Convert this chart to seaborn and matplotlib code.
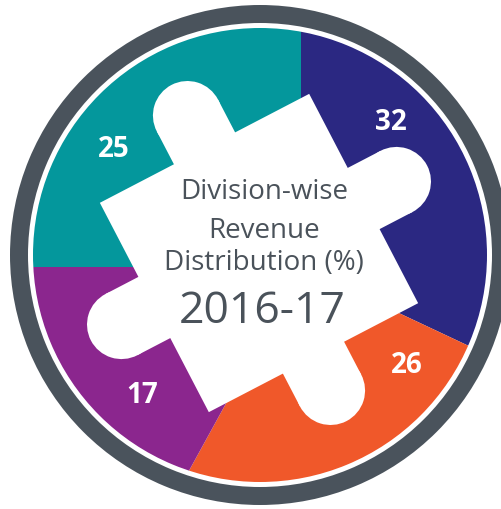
import matplotlib
matplotlib.use("Agg")
import matplotlib.pyplot as plt
from matplotlib.patches import Circle, Rectangle, Wedge
from matplotlib.transforms import Affine2D
import seaborn as sns

# Revenue share per division, clockwise from 12 o'clock (%)
shares = [32, 26, 17, 25]
share_colors = ["#2b2882", "#f0582a", "#8b268e", "#04979c"]
title_lines = ["Division-wise", "Revenue", "Distribution (%)"]
year_label = "2016-17"

# where each share figure is written (pixel x, pixel y from top)
label_pos = [(391, 130), (407, 373), (142, 403), (114, 157)]

sns.set_theme(style="white")
plt.rcParams["font.family"] = ["Open Sans", "DejaVu Sans"]

W, H = 502, 509
ink = "#4a525a"

fig = plt.figure(figsize=(W / 100, H / 100), dpi=100)
ax = fig.add_axes([0, 0, 1, 1])


def up(y):
    return H - y


ring_c = (260, up(255))
disc_r = 227

# segmented disc: wedges fan out from an off-centre point
palette = sns.color_palette(share_colors)
wedges, _ = ax.pie(shares, colors=palette, startangle=90, counterclock=False,
                   center=(301, up(267)), radius=320,
                   wedgeprops=dict(linewidth=0))
for w in wedges:
    w.set_zorder(1)

# white mask trims the fan to a disc, leaving a thin gap before the ring
ax.add_patch(Wedge(ring_c, 500, 0, 360, width=500 - disc_r, facecolor="white",
                   linewidth=0, zorder=1.5))

# outer dark ring
ax.add_patch(Wedge(ring_c, 250, 0, 360, width=18, facecolor="#4a535c",
                   linewidth=0, zorder=2))

# white puzzle piece: tilted square with a round-ended tab on every side
base = Affine2D().rotate_deg(27.5).translate(259, up(253)) + ax.transData
half, tab_r, tab_c = 118, 34.5, 155
ax.add_patch(Rectangle((-half, -half), 2 * half, 2 * half, transform=base,
                       facecolor="white", linewidth=0, zorder=3))
for k in range(4):
    tr = Affine2D().rotate_deg(90 * k) + base
    ax.add_patch(Rectangle((half - 20, -tab_r), tab_c - half + 20, 2 * tab_r,
                           transform=tr, facecolor="white", linewidth=0, zorder=3))
    ax.add_patch(Circle((tab_c, 0), tab_r, transform=tr, facecolor="white",
                        linewidth=0, zorder=3))

# share figures
for val, (x, y) in zip(shares, label_pos):
    ax.text(x, up(y), str(val), color="white", fontsize=20, fontweight="bold",
            ha="center", va="baseline", zorder=4)

# centre caption
for line, (x, y) in zip(title_lines, [(264, 199), (264, 238), (264, 270)]):
    ax.text(x, up(y), line, color=ink, fontsize=20, ha="center",
            va="baseline", zorder=4)
ax.text(262, up(323), year_label, color=ink, fontsize=32, ha="center",
        va="baseline", zorder=4)

ax.set_xlim(0, W)
ax.set_ylim(0, H)
ax.set_aspect("equal")
ax.axis("off")

fig.savefig("out.png", dpi=100, facecolor="white")
